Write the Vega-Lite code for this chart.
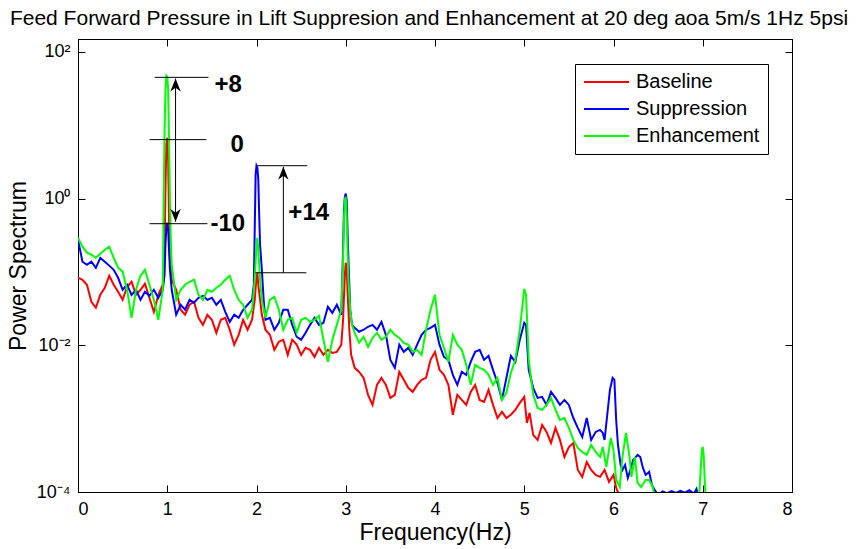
{
 "$schema": "https://vega.github.io/schema/vega-lite/v6.json",
 "width": 714, "height": 453,
 "autosize": {"type": "none"},
 "padding": {"left": 78, "top": 39, "right": 71, "bottom": 57},
 "background": "white",
 "title": {"text": "Feed Forward Pressure in Lift Suppresion and Enhancement at 20 deg aoa 5m/s 1Hz 5psi", "fontSize": 21, "font": "Liberation Sans", "fontWeight": "normal", "color": "black", "anchor": "middle", "offset": -7, "dx": -6, "baseline": "alphabetic"},
 "datasets": {
  "baseline": [
   {"freq":0,"power":0.0833},{"freq":0.05,"power":0.0783},{"freq":0.1,"power":0.0669},{"freq":0.15,"power":0.0392},{"freq":0.2,"power":0.0325},{"freq":0.25,"power":0.0488},{"freq":0.3,"power":0.0609},{"freq":0.35,"power":0.0887},{"freq":0.4,"power":0.0669},{"freq":0.45,"power":0.0537},{"freq":0.5,"power":0.0417},{"freq":0.55,"power":0.0628},{"freq":0.6,"power":0.0735},{"freq":0.65,"power":0.0488},{"freq":0.7,"power":0.0572},{"freq":0.75,"power":0.069},{"freq":0.8,"power":0.0444},{"freq":0.85,"power":0.0286},{"freq":0.9,"power":0.0488},{"freq":0.95,"power":0.0669},{"freq":0.97,"power":0.201},{"freq":0.98,"power":1.32},{"freq":0.99,"power":5.44},{"freq":1.0,"power":6.77},{"freq":1.01,"power":3.39},{"freq":1.02,"power":0.516},{"freq":1.03,"power":0.147},{"freq":1.05,"power":0.0783},{"freq":1.1,"power":0.0572},{"freq":1.15,"power":0.0305},{"freq":1.2,"power":0.0261},{"freq":1.25,"power":0.0357},{"freq":1.3,"power":0.0392},{"freq":1.35,"power":0.0237},{"freq":1.4,"power":0.019},{"freq":1.45,"power":0.0261},{"freq":1.5,"power":0.0223},{"freq":1.55,"power":0.0148},{"freq":1.6,"power":0.0223},{"freq":1.65,"power":0.0237},{"freq":1.7,"power":0.0163},{"freq":1.75,"power":0.0102},{"freq":1.8,"power":0.0139},{"freq":1.85,"power":0.0223},{"freq":1.9,"power":0.0163},{"freq":1.95,"power":0.0223},{"freq":1.98,"power":0.0417},{"freq":2.0,"power":0.0833},{"freq":2.01,"power":0.0975},{"freq":2.02,"power":0.0669},{"freq":2.04,"power":0.0417},{"freq":2.06,"power":0.0261},{"freq":2.1,"power":0.0163},{"freq":2.15,"power":0.0139},{"freq":2.2,"power":0.00867},{"freq":2.25,"power":0.0112},{"freq":2.3,"power":0.0119},{"freq":2.35,"power":0.00741},{"freq":2.4,"power":0.0119},{"freq":2.45,"power":0.0102},{"freq":2.5,"power":0.00741},{"freq":2.55,"power":0.00924},{"freq":2.6,"power":0.00867},{"freq":2.65,"power":0.00696},{"freq":2.7,"power":0.00924},{"freq":2.75,"power":0.00741},{"freq":2.8,"power":0.00867},{"freq":2.85,"power":0.00789},{"freq":2.9,"power":0.00814},{"freq":2.95,"power":0.0102},{"freq":2.97,"power":0.0223},{"freq":2.99,"power":0.0916},{"freq":3.0,"power":0.134},{"freq":3.01,"power":0.107},{"freq":3.02,"power":0.0572},{"freq":3.04,"power":0.0163},{"freq":3.06,"power":0.00741},{"freq":3.1,"power":0.00493},{"freq":3.15,"power":0.00434},{"freq":3.2,"power":0.0036},{"freq":3.25,"power":0.00211},{"freq":3.3,"power":0.00154},{"freq":3.35,"power":0.00289},{"freq":3.4,"power":0.0036},{"freq":3.45,"power":0.00289},{"freq":3.5,"power":0.00192},{"freq":3.55,"power":0.00211},{"freq":3.6,"power":0.00434},{"freq":3.65,"power":0.00338},{"freq":3.7,"power":0.00263},{"freq":3.75,"power":0.00232},{"freq":3.8,"power":0.00289},{"freq":3.85,"power":0.00338},{"freq":3.9,"power":0.0036},{"freq":3.95,"power":0.00633},{"freq":4.0,"power":0.00814},{"freq":4.05,"power":0.00463},{"freq":4.1,"power":0.00395},{"freq":4.15,"power":0.00289},{"freq":4.2,"power":0.00113},{"freq":4.25,"power":0.00211},{"freq":4.3,"power":0.0018},{"freq":4.35,"power":0.00154},{"freq":4.4,"power":0.00232},{"freq":4.45,"power":0.00289},{"freq":4.5,"power":0.0018},{"freq":4.55,"power":0.00169},{"freq":4.6,"power":0.00247},{"freq":4.65,"power":0.00154},{"freq":4.7,"power":0.00102},{"freq":4.75,"power":0.00124},{"freq":4.8,"power":0.00102},{"freq":4.85,"power":0.00113},{"freq":4.9,"power":0.00132},{"freq":4.95,"power":0.00164},{"freq":5.0,"power":0.00198},{"freq":5.03,"power":0.000875},{"freq":5.06,"power":0.0012},{"freq":5.1,"power":0.0006},{"freq":5.15,"power":0.000513},{"freq":5.2,"power":0.000821},{"freq":5.25,"power":0.000659},{"freq":5.3,"power":0.000467},{"freq":5.35,"power":0.000747},{"freq":5.4,"power":0.000513},{"freq":5.45,"power":0.0003},{"freq":5.5,"power":0.000411},{"freq":5.55,"power":0.000467},{"freq":5.6,"power":0.0002},{"freq":5.65,"power":0.000161},{"freq":5.7,"power":0.000256},{"freq":5.75,"power":0.0002},{"freq":5.8,"power":0.000171},{"freq":5.85,"power":0.000161},{"freq":5.9,"power":0.0002},{"freq":5.95,"power":0.000137},{"freq":6.0,"power":0.000171},{"freq":6.03,"power":0.000114},{"freq":6.05,"power":0.0001},{"freq":6.08,"power":0.00006}
  ],
  "suppression": [
   {"freq":0,"power":0.275},{"freq":0.05,"power":0.138},{"freq":0.1,"power":0.125},{"freq":0.15,"power":0.138},{"freq":0.2,"power":0.114},{"freq":0.25,"power":0.156},{"freq":0.3,"power":0.138},{"freq":0.35,"power":0.122},{"freq":0.4,"power":0.107},{"freq":0.45,"power":0.0833},{"freq":0.5,"power":0.0572},{"freq":0.55,"power":0.0669},{"freq":0.6,"power":0.0488},{"freq":0.65,"power":0.0572},{"freq":0.7,"power":0.0417},{"freq":0.75,"power":0.0537},{"freq":0.8,"power":0.0473},{"freq":0.85,"power":0.0572},{"freq":0.9,"power":0.0444},{"freq":0.95,"power":0.0572},{"freq":0.97,"power":0.0916},{"freq":0.98,"power":0.235},{"freq":0.99,"power":0.401},{"freq":1.0,"power":0.469},{"freq":1.01,"power":0.377},{"freq":1.02,"power":0.201},{"freq":1.03,"power":0.107},{"freq":1.05,"power":0.0572},{"freq":1.1,"power":0.0261},{"freq":1.15,"power":0.0357},{"freq":1.2,"power":0.0305},{"freq":1.25,"power":0.0417},{"freq":1.3,"power":0.038},{"freq":1.35,"power":0.0444},{"freq":1.4,"power":0.0473},{"freq":1.45,"power":0.0417},{"freq":1.5,"power":0.0444},{"freq":1.55,"power":0.0357},{"freq":1.6,"power":0.0417},{"freq":1.65,"power":0.0286},{"freq":1.7,"power":0.0209},{"freq":1.75,"power":0.0261},{"freq":1.8,"power":0.0237},{"freq":1.85,"power":0.0305},{"freq":1.9,"power":0.0357},{"freq":1.95,"power":0.0417},{"freq":1.97,"power":0.0669},{"freq":1.98,"power":0.377},{"freq":1.99,"power":2.12},{"freq":2.0,"power":2.81},{"freq":2.01,"power":2.64},{"freq":2.02,"power":1.81},{"freq":2.03,"power":0.603},{"freq":2.04,"power":0.235},{"freq":2.06,"power":0.107},{"freq":2.08,"power":0.0417},{"freq":2.1,"power":0.0223},{"freq":2.15,"power":0.0237},{"freq":2.2,"power":0.0163},{"freq":2.25,"power":0.0203},{"freq":2.3,"power":0.0305},{"freq":2.35,"power":0.0305},{"freq":2.4,"power":0.019},{"freq":2.45,"power":0.0131},{"freq":2.5,"power":0.0119},{"freq":2.55,"power":0.0148},{"freq":2.6,"power":0.019},{"freq":2.65,"power":0.0237},{"freq":2.7,"power":0.019},{"freq":2.75,"power":0.0203},{"freq":2.8,"power":0.0335},{"freq":2.85,"power":0.0277},{"freq":2.9,"power":0.0357},{"freq":2.95,"power":0.0261},{"freq":2.97,"power":0.201},{"freq":2.98,"power":0.706},{"freq":2.99,"power":1.06},{"freq":3.0,"power":1.17},{"freq":3.01,"power":0.966},{"freq":3.02,"power":0.377},{"freq":3.03,"power":0.147},{"freq":3.05,"power":0.0305},{"freq":3.07,"power":0.019},{"freq":3.1,"power":0.0173},{"freq":3.15,"power":0.0153},{"freq":3.2,"power":0.0163},{"freq":3.25,"power":0.0179},{"freq":3.3,"power":0.019},{"freq":3.35,"power":0.0163},{"freq":3.4,"power":0.0209},{"freq":3.45,"power":0.0139},{"freq":3.5,"power":0.00633},{"freq":3.55,"power":0.00493},{"freq":3.6,"power":0.0102},{"freq":3.65,"power":0.00814},{"freq":3.7,"power":0.00924},{"freq":3.75,"power":0.00741},{"freq":3.8,"power":0.0102},{"freq":3.85,"power":0.0139},{"freq":3.9,"power":0.0163},{"freq":3.95,"power":0.0173},{"freq":4.0,"power":0.019},{"freq":4.05,"power":0.0102},{"freq":4.1,"power":0.00696},{"freq":4.15,"power":0.00633},{"freq":4.2,"power":0.00395},{"freq":4.25,"power":0.00289},{"freq":4.3,"power":0.00434},{"freq":4.35,"power":0.00395},{"freq":4.4,"power":0.00595},{"freq":4.45,"power":0.00814},{"freq":4.5,"power":0.00867},{"freq":4.55,"power":0.00633},{"freq":4.6,"power":0.00718},{"freq":4.65,"power":0.00463},{"freq":4.7,"power":0.00308},{"freq":4.75,"power":0.0018},{"freq":4.8,"power":0.0036},{"freq":4.85,"power":0.00718},{"freq":4.9,"power":0.00595},{"freq":4.95,"power":0.0119},{"freq":5.0,"power":0.0203},{"freq":5.02,"power":0.019},{"freq":5.05,"power":0.00463},{"freq":5.1,"power":0.00263},{"freq":5.15,"power":0.00192},{"freq":5.2,"power":0.00198},{"freq":5.25,"power":0.00154},{"freq":5.3,"power":0.00232},{"freq":5.35,"power":0.00192},{"freq":5.4,"power":0.00154},{"freq":5.45,"power":0.0018},{"freq":5.5,"power":0.00154},{"freq":5.55,"power":0.00102},{"freq":5.6,"power":0.000747},{"freq":5.65,"power":0.000563},{"freq":5.7,"power":0.00102},{"freq":5.75,"power":0.000513},{"freq":5.8,"power":0.000659},{"freq":5.85,"power":0.000702},{"freq":5.88,"power":0.000639},{"freq":5.9,"power":0.000513},{"freq":5.93,"power":0.00113},{"freq":5.96,"power":0.00247},{"freq":5.99,"power":0.0036},{"freq":6.01,"power":0.00338},{"freq":6.03,"power":0.000961},{"freq":6.05,"power":0.000438},{"freq":6.08,"power":0.000234},{"freq":6.1,"power":0.0002},{"freq":6.13,"power":0.000234},{"freq":6.16,"power":0.000156},{"freq":6.19,"power":0.0002},{"freq":6.22,"power":0.000273},{"freq":6.27,"power":0.00032},{"freq":6.3,"power":0.0003},{"freq":6.33,"power":0.000213},{"freq":6.36,"power":0.000171},{"freq":6.4,"power":0.000188},{"freq":6.43,"power":0.000125},{"freq":6.46,"power":0.000107},{"freq":6.5,"power":0.0000913},{"freq":6.55,"power":0.000102},{"freq":6.6,"power":0.000096},{"freq":6.65,"power":0.000103},{"freq":6.7,"power":0.000097},{"freq":6.75,"power":0.000104},{"freq":6.8,"power":0.000098},{"freq":6.85,"power":0.000106},{"freq":6.9,"power":0.000095},{"freq":6.93,"power":0.00011},{"freq":6.96,"power":0.00008},{"freq":7.0,"power":0.00005}
  ],
  "enhancement": [
   {"freq":0,"power":0.293},{"freq":0.05,"power":0.221},{"freq":0.1,"power":0.183},{"freq":0.15,"power":0.172},{"freq":0.2,"power":0.156},{"freq":0.25,"power":0.177},{"freq":0.3,"power":0.201},{"freq":0.35,"power":0.221},{"freq":0.4,"power":0.156},{"freq":0.45,"power":0.114},{"freq":0.5,"power":0.101},{"freq":0.55,"power":0.0572},{"freq":0.6,"power":0.0237},{"freq":0.65,"power":0.0572},{"freq":0.7,"power":0.0887},{"freq":0.75,"power":0.107},{"freq":0.8,"power":0.0669},{"freq":0.85,"power":0.0417},{"freq":0.9,"power":0.0223},{"freq":0.95,"power":0.0572},{"freq":0.96,"power":0.966},{"freq":0.97,"power":8.71},{"freq":0.98,"power":30.6},{"freq":0.99,"power":47.5},{"freq":1.0,"power":46.0},{"freq":1.01,"power":30.6},{"freq":1.02,"power":6.36},{"freq":1.03,"power":0.966},{"freq":1.04,"power":0.275},{"freq":1.05,"power":0.125},{"freq":1.1,"power":0.0417},{"freq":1.15,"power":0.0572},{"freq":1.2,"power":0.0669},{"freq":1.25,"power":0.0735},{"freq":1.3,"power":0.0783},{"freq":1.35,"power":0.0488},{"freq":1.4,"power":0.0417},{"freq":1.45,"power":0.0572},{"freq":1.5,"power":0.0537},{"freq":1.55,"power":0.0609},{"freq":1.6,"power":0.0669},{"freq":1.65,"power":0.0783},{"freq":1.7,"power":0.0887},{"freq":1.75,"power":0.0572},{"freq":1.8,"power":0.0417},{"freq":1.85,"power":0.0357},{"freq":1.9,"power":0.0237},{"freq":1.95,"power":0.0305},{"freq":1.98,"power":0.0783},{"freq":2.0,"power":0.235},{"freq":2.01,"power":0.293},{"freq":2.02,"power":0.201},{"freq":2.04,"power":0.0783},{"freq":2.06,"power":0.0417},{"freq":2.1,"power":0.0237},{"freq":2.15,"power":0.0417},{"freq":2.2,"power":0.0459},{"freq":2.25,"power":0.0305},{"freq":2.3,"power":0.0163},{"freq":2.35,"power":0.0223},{"freq":2.4,"power":0.0237},{"freq":2.45,"power":0.0148},{"freq":2.5,"power":0.0223},{"freq":2.55,"power":0.0237},{"freq":2.6,"power":0.0209},{"freq":2.65,"power":0.0223},{"freq":2.7,"power":0.0252},{"freq":2.75,"power":0.0119},{"freq":2.8,"power":0.00595},{"freq":2.85,"power":0.0119},{"freq":2.9,"power":0.019},{"freq":2.95,"power":0.0305},{"freq":2.97,"power":0.147},{"freq":2.98,"power":0.516},{"freq":2.99,"power":0.966},{"freq":3.0,"power":1.06},{"freq":3.01,"power":0.603},{"freq":3.02,"power":0.201},{"freq":3.03,"power":0.0783},{"freq":3.05,"power":0.0305},{"freq":3.07,"power":0.019},{"freq":3.1,"power":0.0148},{"freq":3.15,"power":0.0108},{"freq":3.2,"power":0.0131},{"freq":3.25,"power":0.00953},{"freq":3.3,"power":0.0126},{"freq":3.35,"power":0.0148},{"freq":3.4,"power":0.0119},{"freq":3.45,"power":0.0131},{"freq":3.5,"power":0.0163},{"freq":3.55,"power":0.0139},{"freq":3.6,"power":0.0126},{"freq":3.65,"power":0.0108},{"freq":3.7,"power":0.0102},{"freq":3.75,"power":0.00814},{"freq":3.8,"power":0.00867},{"freq":3.85,"power":0.00741},{"freq":3.9,"power":0.0163},{"freq":3.95,"power":0.0305},{"freq":4.0,"power":0.0488},{"freq":4.05,"power":0.0139},{"freq":4.1,"power":0.00924},{"freq":4.15,"power":0.00595},{"freq":4.2,"power":0.0139},{"freq":4.25,"power":0.0102},{"freq":4.3,"power":0.00867},{"freq":4.35,"power":0.00541},{"freq":4.4,"power":0.00289},{"freq":4.45,"power":0.00541},{"freq":4.5,"power":0.00493},{"freq":4.55,"power":0.00463},{"freq":4.6,"power":0.00395},{"freq":4.65,"power":0.00289},{"freq":4.7,"power":0.0036},{"freq":4.75,"power":0.0018},{"freq":4.8,"power":0.00225},{"freq":4.85,"power":0.00421},{"freq":4.9,"power":0.00633},{"freq":4.95,"power":0.0163},{"freq":5.0,"power":0.059},{"freq":5.02,"power":0.0488},{"freq":5.05,"power":0.00633},{"freq":5.1,"power":0.00211},{"freq":5.15,"power":0.0014},{"freq":5.2,"power":0.00132},{"freq":5.25,"power":0.00154},{"freq":5.3,"power":0.00192},{"freq":5.35,"power":0.00132},{"freq":5.4,"power":0.000961},{"freq":5.45,"power":0.00102},{"freq":5.5,"power":0.000747},{"freq":5.55,"power":0.000513},{"freq":5.6,"power":0.000399},{"freq":5.65,"power":0.000351},{"freq":5.7,"power":0.00032},{"freq":5.75,"power":0.000438},{"freq":5.8,"power":0.000351},{"freq":5.85,"power":0.0003},{"freq":5.88,"power":0.000411},{"freq":5.92,"power":0.00022},{"freq":5.97,"power":0.000546},{"freq":6.0,"power":0.000374},{"freq":6.03,"power":0.000146},{"freq":6.07,"power":0.000117},{"freq":6.1,"power":0.0003},{"freq":6.14,"power":0.000639},{"freq":6.18,"power":0.0003},{"freq":6.2,"power":0.000161},{"freq":6.24,"power":0.0003},{"freq":6.27,"power":0.000133},{"freq":6.31,"power":0.000117},{"freq":6.36,"power":0.000146},{"freq":6.4,"power":0.000146},{"freq":6.44,"power":0.000117},{"freq":6.48,"power":0.00006},{"freq":6.6,"power":0.00004},{"freq":6.8,"power":0.00004},{"freq":6.95,"power":0.00005},{"freq":6.97,"power":0.000146},{"freq":6.99,"power":0.000374},{"freq":7.0,"power":0.000411},{"freq":7.01,"power":0.00032},{"freq":7.03,"power":0.0000913},{"freq":7.05,"power":0.00004}
  ],
  "guides": [
   {"x1":0.859,"x2":1.462,"y1":45.0,"y2":45.0},
   {"x1":0.802,"x2":1.439,"y1":6.37,"y2":6.37},
   {"x1":0.802,"x2":1.45,"y1":0.455,"y2":0.455},
   {"x1":1.093,"x2":1.093,"y1":43.3,"y2":0.484},
   {"x1":2.01,"x2":2.569,"y1":2.81,"y2":2.81},
   {"x1":1.988,"x2":2.558,"y1":0.0975,"y2":0.0975},
   {"x1":2.301,"x2":2.301,"y1":0.0975,"y2":2.72}
  ],
  "heads": [
   {"x":1.093,"y":43.3,"dir":"up"},
   {"x":1.093,"y":0.484,"dir":"down"},
   {"x":2.301,"y":2.72,"dir":"up"}
  ],
  "notes": [
   {"x":1.529,"y":35.8,"label":"+8"},
   {"x":1.708,"y":5.43,"label":"0"},
   {"x":1.484,"y":0.455,"label":"-10"},
   {"x":2.357,"y":0.643,"label":"+14"}
  ]
 },
 "layer": [
  {
   "data": {"name": "baseline"},
   "mark": {"type": "line", "clip": true, "strokeWidth": 2},
   "encoding": {
    "x": {"field": "freq", "type": "quantitative", "scale": {"domain": [0, 8], "nice": false, "zero": false},
      "axis": {"orient": "bottom", "values": [0,1,2,3,4,5,6,7,8], "format": "d", "tickSize": -7, "labelPadding": 15, "labelFontSize": 18, "title": "Frequency(Hz)", "titleFontSize": 23, "titlePadding": 3}},
    "y": {"field": "power", "type": "quantitative", "scale": {"type": "log", "domain": [0.0001, 150], "nice": false},
      "axis": {"orient": "left", "values": [0.0001, 0.01, 1, 100], "labelExpr": "datum.value >= 10 ? '10²' : datum.value >= 0.5 ? '10⁰' : datum.value >= 0.005 ? '10⁻²' : '10⁻⁴'", "tickSize": -7, "labelPadding": 15, "labelFontSize": 18, "title": "Power Spectrum", "titleFontSize": 23, "titlePadding": 6}},
    "color": {"datum": "Baseline", "type": "nominal",
      "scale": {"domain": ["Baseline", "Suppression", "Enhancement"], "range": ["#ff0000", "#0000ff", "#00ff00"]},
      "legend": {"title": null, "orient": "none", "legendX": 497, "legendY": 25, "symbolType": "stroke", "symbolSize": 2025, "symbolStrokeWidth": 2, "clipHeight": 20, "rowPadding": 7, "labelFontSize": 20, "labelFont": "Liberation Sans", "labelColor": "black", "labelOffset": 6, "padding": 8, "strokeColor": "black", "fillColor": "white", "labelLimit": 300, "symbolOpacity": 1}}
   }
  },
  {
   "data": {"name": "suppression"},
   "mark": {"type": "line", "clip": true, "strokeWidth": 2},
   "encoding": {
    "x": {"field": "freq", "type": "quantitative", "scale": {"domain": [0, 8], "nice": false, "zero": false}, "axis": null},
    "y": {"field": "power", "type": "quantitative", "scale": {"type": "log", "domain": [0.0001, 150], "nice": false}, "axis": null},
    "color": {"datum": "Suppression", "type": "nominal"}
   }
  },
  {
   "data": {"name": "enhancement"},
   "mark": {"type": "line", "clip": true, "strokeWidth": 2},
   "encoding": {
    "x": {"field": "freq", "type": "quantitative", "scale": {"domain": [0, 8], "nice": false, "zero": false}, "axis": null},
    "y": {"field": "power", "type": "quantitative", "scale": {"type": "log", "domain": [0.0001, 150], "nice": false}, "axis": null},
    "color": {"datum": "Enhancement", "type": "nominal"}
   }
  },
  {
   "data": {"name": "guides"},
   "mark": {"type": "rule", "color": "black", "strokeWidth": 1},
   "encoding": {
    "x": {"field": "x1", "type": "quantitative", "scale": {"domain": [0, 8], "nice": false, "zero": false},
      "axis": {"orient": "top", "values": [0,1,2,3,4,5,6,7,8], "labels": false, "tickSize": -7, "title": null}},
    "x2": {"field": "x2"},
    "y": {"field": "y1", "type": "quantitative", "scale": {"type": "log", "domain": [0.0001, 150], "nice": false},
      "axis": {"orient": "right", "values": [0.0001, 0.01, 1, 100], "labels": false, "tickSize": -7, "title": null}},
    "y2": {"field": "y2"}
   }
  },
  {
   "data": {"name": "heads"},
   "mark": {"type": "point", "filled": true, "color": "black", "opacity": 1, "size": 169},
   "encoding": {
    "x": {"field": "x", "type": "quantitative", "scale": {"domain": [0, 8], "nice": false, "zero": false}, "axis": null},
    "y": {"field": "y", "type": "quantitative", "scale": {"type": "log", "domain": [0.0001, 150], "nice": false}, "axis": null},
    "shape": {"field": "dir", "type": "nominal", "scale": {"domain": ["up", "down"], "range": ["M0,0L0.8,2L0,1.4L-0.8,2Z", "M0,0L0.8,-2L0,-1.4L-0.8,-2Z"]}, "legend": null}
   }
  },
  {
   "data": {"name": "notes"},
   "mark": {"type": "text", "fontSize": 24, "fontWeight": "bold", "align": "left", "baseline": "middle", "font": "Liberation Sans", "color": "black"},
   "encoding": {
    "x": {"field": "x", "type": "quantitative", "scale": {"domain": [0, 8], "nice": false, "zero": false}, "axis": null},
    "y": {"field": "y", "type": "quantitative", "scale": {"type": "log", "domain": [0.0001, 150], "nice": false}, "axis": null},
    "text": {"field": "label"}
   }
  }
 ],
 "resolve": {"axis": {"x": "independent", "y": "independent"}},
 "config": {
  "font": "Liberation Sans",
  "view": {"stroke": "black", "strokeWidth": 1},
  "axis": {"grid": false, "domainColor": "black", "tickColor": "black", "labelColor": "black", "titleColor": "black", "labelFont": "Liberation Sans", "titleFont": "Liberation Sans", "titleFontWeight": "normal", "domainWidth": 1, "tickWidth": 1}
 }
}
